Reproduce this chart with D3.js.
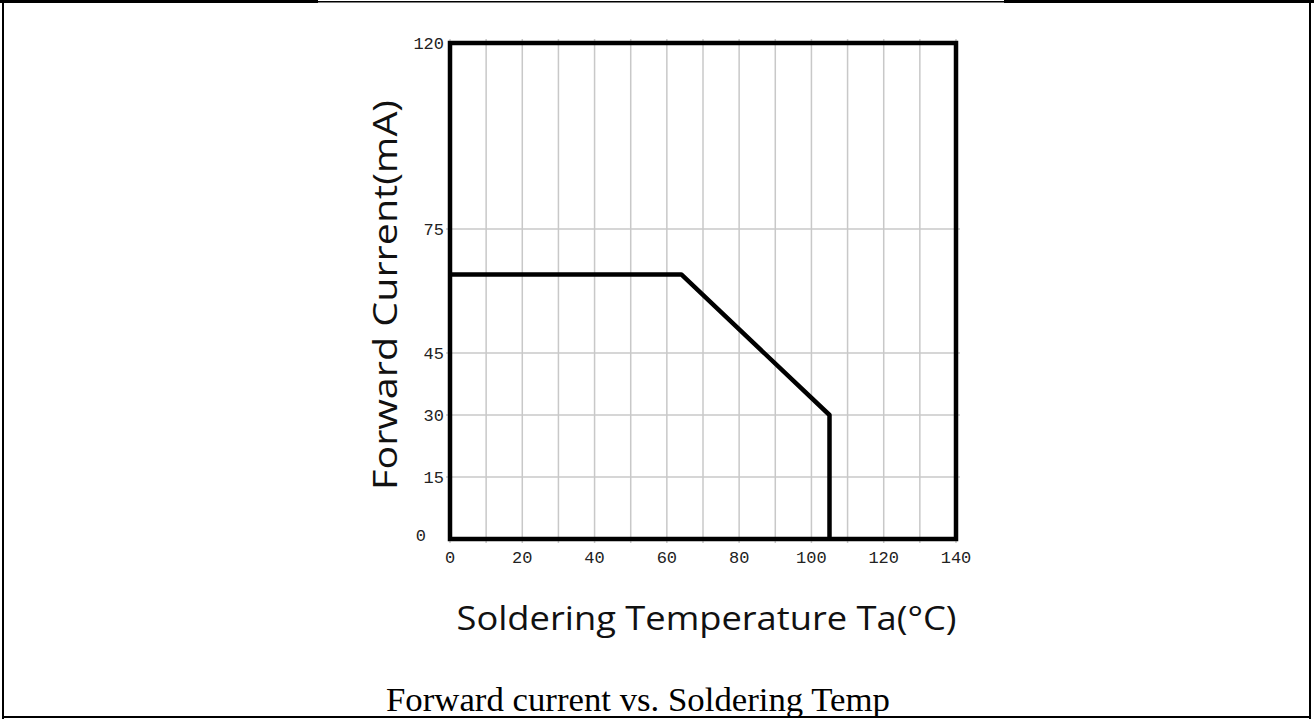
<!DOCTYPE html>
<html>
<head>
<meta charset="utf-8">
<script src="https://cdn.jsdelivr.net/npm/d3@7"></script>
<style>
  html, body { margin: 0; padding: 0; background: #fff; }
  svg { display: block; }
</style>
</head>
<body>
<svg id="root"></svg>
<script>
// derating curve: forward current vs soldering temperature
const temps = [0, 64, 105, 105];
const currents = [64, 64, 30, 0];

const xTicks = [0, 20, 40, 60, 80, 100, 120, 140];
const xGrid = d3.range(0, 141, 10);
const yTicks = [0, 15, 30, 45, 75, 120];

const width = 1314,
  height = 719;

const margin = { left: 450, right: 358, top: 43, bottom: 180 };

const svg = d3.select("svg#root").attr("width", width).attr("height", height);

// page frame (document box)
svg.append("rect").attr("x", 0).attr("y", 0).attr("width", 318).attr("height", 3).attr("fill", "#000");
svg.append("rect").attr("x", 1004).attr("y", 0).attr("width", 310).attr("height", 3).attr("fill", "#000");
svg.append("rect").attr("x", 318).attr("y", 1).attr("width", 686).attr("height", 1.5).attr("fill", "#000");
svg.append("rect").attr("x", 2).attr("y", 0).attr("width", 2).attr("height", 719).attr("fill", "#000");
svg.append("rect").attr("x", 1309).attr("y", 0).attr("width", 2).attr("height", 719).attr("fill", "#000");
svg.append("rect").attr("x", 2).attr("y", 716).attr("width", 1309).attr("height", 2).attr("fill", "#000");

const x = d3
  .scaleLinear()
  .domain([0, 140])
  .range([margin.left, width - margin.right]);
const y = d3
  .scaleLinear()
  .domain([0, 120])
  .range([height - margin.bottom, margin.top]);

// grid
const grid = svg.append("g").attr("stroke", "#c8c8c8").attr("stroke-width", 1.5);
grid
  .selectAll("line.v")
  .data(xGrid)
  .join("line")
  .attr("class", "v")
  .attr("x1", (d) => x(d))
  .attr("x2", (d) => x(d))
  .attr("y1", y(120) - 4)
  .attr("y2", y(0) + 4);
grid
  .selectAll("line.h")
  .data(yTicks.filter((d) => d > 0 && d < 120))
  .join("line")
  .attr("class", "h")
  .attr("x1", x(0) - 4)
  .attr("x2", x(140) + 4)
  .attr("y1", (d) => y(d))
  .attr("y2", (d) => y(d));

// plot frame
svg
  .append("rect")
  .attr("x", x(0))
  .attr("y", y(120))
  .attr("width", x(140) - x(0))
  .attr("height", y(0) - y(120))
  .attr("fill", "none")
  .attr("stroke", "#000")
  .attr("stroke-width", 4.5);

// curve
const line = d3
  .line()
  .x((d, i) => x(temps[i]))
  .y((d, i) => y(currents[i]));
svg
  .append("path")
  .attr("d", line(temps))
  .attr("fill", "none")
  .attr("stroke", "#000")
  .attr("stroke-width", 4.5)
  .attr("stroke-linejoin", "round");

// tick labels
const tickFont = "'Liberation Mono', 'DejaVu Sans Mono', monospace";
svg
  .append("g")
  .selectAll("text")
  .data(xTicks)
  .join("text")
  .attr("x", (d) => x(d))
  .attr("y", y(0) + 24)
  .attr("text-anchor", "middle")
  .attr("font-family", tickFont)
  .attr("font-size", "17px")
  .attr("fill", "#222")
  .text((d) => d);

svg
  .append("g")
  .selectAll("text")
  .data(yTicks)
  .join("text")
  .attr("x", (d) => (d === 0 ? 426 : 444))
  .attr("y", (d) => y(d) + (d === 0 ? 2 : 6))
  .attr("text-anchor", "end")
  .attr("font-family", tickFont)
  .attr("font-size", "17px")
  .attr("fill", "#222")
  .text((d) => d);

// axis titles
const sans = "'Open Sans', 'Noto Sans', sans-serif";
svg
  .append("text")
  .attr("transform", `translate(397, ${(100 + 490) / 2}) rotate(-90)`)
  .attr("text-anchor", "middle")
  .attr("font-family", sans)
  .attr("font-size", "32px")
  .attr("fill", "#111")
  .attr("textLength", 390)
  .attr("lengthAdjust", "spacingAndGlyphs")
  .text("Forward Current(mA)");

svg
  .append("text")
  .attr("x", (456 + 957) / 2)
  .attr("y", 630)
  .attr("text-anchor", "middle")
  .attr("font-family", sans)
  .attr("font-size", "33px")
  .attr("fill", "#111")
  .attr("textLength", 500)
  .attr("lengthAdjust", "spacingAndGlyphs")
  .text("Soldering Temperature Ta(°C)");

// caption
svg
  .append("text")
  .attr("x", (386 + 890) / 2)
  .attr("y", 711)
  .attr("text-anchor", "middle")
  .attr("font-family", "'Liberation Serif', 'Times New Roman', serif")
  .attr("font-size", "33px")
  .attr("fill", "#000")
  .attr("textLength", 504)
  .attr("lengthAdjust", "spacingAndGlyphs")
  .text("Forward current vs. Soldering Temp");
</script>
</body>
</html>
